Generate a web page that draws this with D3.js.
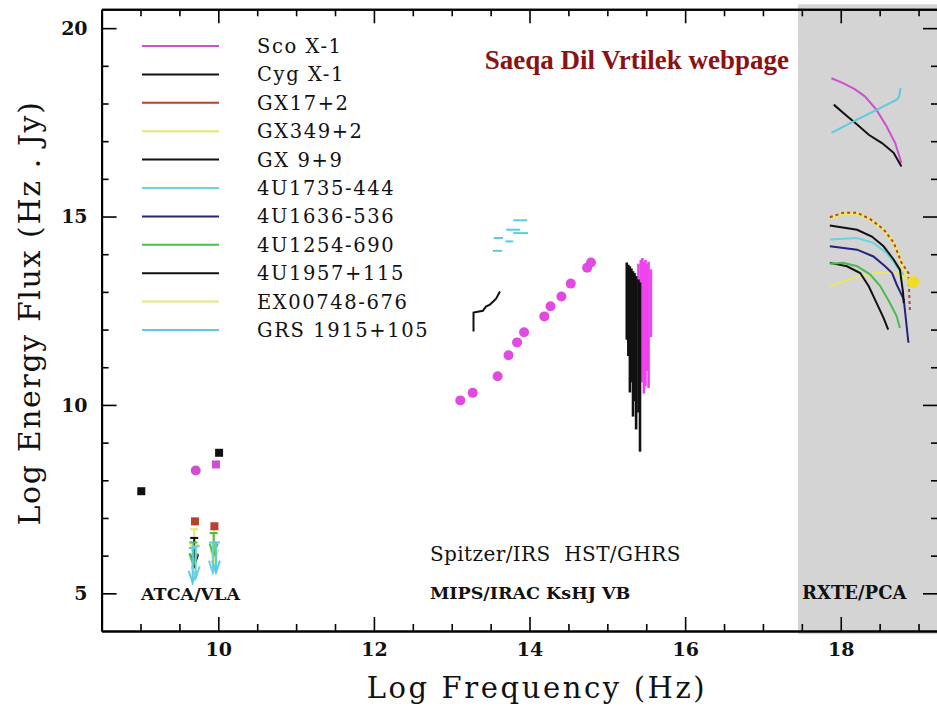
<!DOCTYPE html>
<html>
<head>
<meta charset="utf-8">
<script src="https://cdn.jsdelivr.net/npm/d3@7"></script>
<style>
	html, body { margin: 0; padding: 0; background: #fff; }
	svg { display: block; }
	text { font-family: 'DejaVu Serif', 'Liberation Serif', serif; fill: #111; white-space: pre; }
</style>
</head>
<body>
<svg id="sed" width="937" height="712"></svg>

<script>
	// sources, in legend order
	const sourceNames = [ 'Sco X-1', 'Cyg X-1', 'GX17+2', 'GX349+2', 'GX 9+9', '4U1735-444',
		'4U1636-536', '4U1254-690', '4U1957+115', 'EX00748-676', 'GRS 1915+105' ];
	const sourceColors = [ '#d04fd0', '#111111', '#b8402c', '#e8e66c', '#111111', '#68d4de',
		'#24247e', '#4cba4c', '#111111', '#e8e66c', '#5ccbe2' ];

	// axes
	const xMajorTicks = [ 10, 12, 14, 16, 18 ];
	const xMinorTicks = [ 9, 9.5, 10.5, 11, 11.5, 12.5, 13, 13.5, 14.5, 15, 15.5, 16.5, 17, 17.5, 18.5, 19 ];
	const yMajorTicks = [ 5, 10, 15, 20 ];
	const yMinorTicks = [ 6, 7, 8, 9, 11, 12, 13, 14, 16, 17, 18, 19 ];
	const rxteBand = [ 17.45, 19.25 ];

	// radio (log nu, log nu*F)
	const radioSquares = [ [ 'Cyg X-1', 9.01, 7.71 ], [ 'Sco X-1', 9.97, 8.42 ], [ 'GX 9+9', 10.01, 8.73 ],
		[ 'GX17+2', 9.70, 6.91 ], [ 'GX17+2', 9.95, 6.78 ] ];
	const radioCircles = [ [ 'Sco X-1', 9.71, 8.26 ] ];
	// upper limits: source, log nu, limit, arrow drop
	const radioLimits = [
		[ 'GX349+2', 9.69, 6.70, 0.70 ], [ 'Cyg X-1', 9.69, 6.47, 0.75 ], [ '4U1254-690', 9.68, 6.35, 0.60 ],
		[ 'GRS 1915+105', 9.67, 6.20, 0.92 ], [ '4U1735-444', 9.71, 6.25, 0.85 ],
		[ 'GX349+2', 9.95, 6.70, 0.85 ], [ '4U1254-690', 9.94, 6.60, 0.60 ],
		[ '4U1735-444', 9.93, 6.35, 0.80 ], [ 'GRS 1915+105', 9.97, 6.35, 0.80 ] ];

	// infrared / optical
	const scoIrFreq = [ 13.11, 13.27, 13.59, 13.73, 13.84, 13.93, 14.19, 14.27, 14.41, 14.53, 14.74, 14.79 ];
	const scoIrFlux = [ 10.12, 10.32, 10.76, 11.32, 11.66, 11.93, 12.35, 12.62, 12.88, 13.22, 13.64, 13.78 ];
	const cygIr = [ [ 13.28, 11.95 ], [ 13.28, 12.45 ], [ 13.40, 12.50 ], [ 13.44, 12.61 ], [ 13.49, 12.66 ],
		[ 13.53, 12.74 ], [ 13.57, 12.82 ], [ 13.62, 13.01 ] ];
	// GRS 1915+105 near-IR: from, to, flux
	const grsIr = [ [ 13.79, 13.97, 14.90 ], [ 13.70, 13.88, 14.65 ], [ 13.79, 13.98, 14.56 ],
		[ 13.54, 13.66, 14.43 ], [ 13.69, 13.79, 14.34 ], [ 13.53, 13.65, 14.09 ] ];

	// ultraviolet spectra: log nu, top, bottom
	const scoUv = [ [ 15.40, 13.75, 12.20 ], [ 15.43, 13.85, 11.00 ], [ 15.45, 13.90, 10.60 ], [ 15.47, 13.80, 10.30 ],
		[ 15.49, 13.85, 10.50 ], [ 15.51, 13.75, 10.90 ], [ 15.53, 13.80, 10.45 ], [ 15.56, 13.60, 11.80 ] ];
	const cygUv = [ [ 15.25, 13.78, 11.73 ], [ 15.27, 13.72, 11.30 ], [ 15.29, 13.68, 10.33 ], [ 15.31, 13.62, 10.60 ],
		[ 15.33, 13.55, 9.69 ], [ 15.35, 13.50, 10.10 ], [ 15.37, 13.42, 9.35 ], [ 15.40, 13.33, 9.80 ],
		[ 15.42, 13.25, 8.76 ] ];

	// X-ray (RXTE/PCA)
	const scoXray = [ [ 17.88, 18.67 ], [ 18.03, 18.54 ], [ 18.18, 18.38 ], [ 18.31, 18.19 ], [ 18.46, 17.83 ],
		[ 18.59, 17.39 ], [ 18.70, 16.95 ], [ 18.78, 16.42 ] ];
	const cygXray = [ [ 17.91, 17.97 ], [ 18.06, 17.70 ], [ 18.21, 17.44 ], [ 18.36, 17.17 ], [ 18.53, 16.95 ],
		[ 18.68, 16.69 ], [ 18.78, 16.33 ] ];
	const grsXray = [ [ 17.88, 17.22 ], [ 18.21, 17.57 ], [ 18.46, 17.83 ], [ 18.72, 18.10 ], [ 18.75, 18.19 ], [ 18.77, 18.41 ] ];
	const gx349Xray = [ [ 17.86, 14.96 ], [ 18.03, 15.09 ], [ 18.21, 15.09 ], [ 18.38, 14.92 ], [ 18.55, 14.65 ],
		[ 18.68, 14.30 ], [ 18.78, 13.77 ], [ 18.85, 13.41 ] ];
	const gx17Xray = [ [ 17.86, 14.98 ], [ 18.03, 15.10 ], [ 18.21, 15.10 ], [ 18.38, 14.93 ], [ 18.55, 14.66 ],
		[ 18.68, 14.31 ], [ 18.78, 13.78 ], [ 18.87, 13.50 ], [ 18.89, 12.45 ] ];
	const gx9Xray = [ [ 17.86, 14.76 ], [ 18.21, 14.65 ], [ 18.40, 14.47 ], [ 18.55, 14.21 ], [ 18.68, 13.86 ],
		[ 18.76, 13.59 ], [ 18.80, 13.00 ], [ 18.81, 12.70 ] ];
	const u1735Xray = [ [ 17.86, 14.39 ], [ 18.21, 14.43 ], [ 18.42, 14.30 ], [ 18.59, 14.03 ], [ 18.72, 13.68 ], [ 18.81, 13.46 ] ];
	const u1636Xray = [ [ 17.86, 14.21 ], [ 18.21, 14.12 ], [ 18.42, 13.94 ], [ 18.57, 13.68 ], [ 18.66, 13.50 ],
		[ 18.72, 13.19 ], [ 18.81, 12.80 ], [ 18.87, 11.65 ] ];
	const u1254Xray = [ [ 17.86, 13.75 ], [ 18.03, 13.77 ], [ 18.21, 13.68 ], [ 18.38, 13.46 ], [ 18.51, 13.15 ],
		[ 18.63, 12.71 ], [ 18.72, 12.35 ], [ 18.76, 12.04 ] ];
	const u1957Xray = [ [ 17.86, 13.77 ], [ 18.08, 13.68 ], [ 18.25, 13.50 ], [ 18.36, 13.15 ], [ 18.46, 12.71 ],
		[ 18.55, 12.31 ], [ 18.61, 12.00 ] ];
	const ex0748Xray = [ [ 17.86, 13.15 ], [ 18.21, 13.41 ], [ 18.46, 13.50 ], [ 18.72, 13.50 ], [ 18.93, 13.24 ] ];
	const xrayBlobs = [ [ 'GX349+2', 18.93, 13.26 ] ];

	function colorOf( name ) {
		return sourceColors[ sourceNames.indexOf( name ) ];
	}

	let svg = d3.select( '#sed' ),
		x = d3.scaleLinear().domain( [ 8.5, 19.25 ] ).range( [ 101.6, 938 ] ),
		y = d3.scaleLinear().domain( [ 4, 20.5 ] ).range( [ 631, 9.3 ] );

	// grey RXTE panel
	svg.append( 'rect' )
		.attr( 'x', x( rxteBand[ 0 ] ) )
		.attr( 'y', y( 20.5 ) - 5 )
		.attr( 'width', x( rxteBand[ 1 ] ) - x( rxteBand[ 0 ] ) + 2 )
		.attr( 'height', y( 4 ) - y( 20.5 ) + 8 )
		.style( 'fill', '#d4d4d4' );

	let plot = svg.append( 'g' ).attr( 'id', 'plotGroup' );

	// radio upper limits
	radioLimits.forEach( d => {
		let cx = x( d[ 1 ] ), y0 = y( d[ 2 ] ), y1 = y( d[ 2 ] - d[ 3 ] ),
			g = plot.append( 'g' ).style( 'stroke', colorOf( d[ 0 ] ) ).style( 'stroke-width', 2 ).style( 'fill', 'none' );
		g.append( 'line' ).attr( 'x1', cx - 4 ).attr( 'x2', cx + 4 ).attr( 'y1', y0 ).attr( 'y2', y0 );
		g.append( 'line' ).attr( 'x1', cx ).attr( 'x2', cx ).attr( 'y1', y0 ).attr( 'y2', y1 );
		g.append( 'path' ).attr( 'd', 'M' + ( cx - 4 ) + ',' + ( y1 - 12 ) + 'L' + cx + ',' + y1 + 'L' + ( cx + 4 ) + ',' + ( y1 - 12 ) );
	} );

	// radio detections
	plot.selectAll( 'rect.radio' ).data( radioSquares )
		.enter().append( 'rect' )
		.attr( 'class', 'radio' )
		.attr( 'x', d => x( d[ 1 ] ) - 4 )
		.attr( 'y', d => y( d[ 2 ] ) - 4 )
		.attr( 'width', 8 )
		.attr( 'height', 8 )
		.style( 'fill', d => colorOf( d[ 0 ] ) );

	plot.selectAll( 'circle.radio' ).data( radioCircles )
		.enter().append( 'circle' )
		.attr( 'class', 'radio' )
		.attr( 'cx', d => x( d[ 1 ] ) )
		.attr( 'cy', d => y( d[ 2 ] ) )
		.attr( 'r', 5 )
		.style( 'fill', d => colorOf( d[ 0 ] ) );

	// Sco X-1 IR/optical points
	plot.selectAll( 'circle.ir' ).data( scoIrFreq )
		.enter().append( 'circle' )
		.attr( 'class', 'ir' )
		.attr( 'cx', d => x( d ) )
		.attr( 'cy', ( d, i ) => y( scoIrFlux[ i ] ) )
		.attr( 'r', 5 )
		.style( 'fill', '#e04ae0' );

	let line = d3.line().x( d => x( d[ 0 ] ) ).y( d => y( d[ 1 ] ) );

	plot.append( 'path' ).datum( cygIr )
		.attr( 'd', line )
		.style( 'fill', 'none' ).style( 'stroke', '#111' ).style( 'stroke-width', 2 );

	plot.selectAll( 'line.grs' ).data( grsIr )
		.enter().append( 'line' )
		.attr( 'class', 'grs' )
		.attr( 'x1', d => x( d[ 0 ] ) )
		.attr( 'x2', d => x( d[ 1 ] ) )
		.attr( 'y1', d => y( d[ 2 ] ) )
		.attr( 'y2', d => y( d[ 2 ] ) )
		.style( 'stroke', colorOf( 'GRS 1915+105' ) ).style( 'stroke-width', 2 );

	// UV spectra as vertical traces
	[ [ scoUv, '#ee44ee' ], [ cygUv, '#111' ] ].forEach( s => {
		plot.append( 'g' ).selectAll( 'line' ).data( s[ 0 ] )
			.enter().append( 'line' )
			.attr( 'x1', d => x( d[ 0 ] ) )
			.attr( 'x2', d => x( d[ 0 ] ) )
			.attr( 'y1', d => y( d[ 1 ] ) )
			.attr( 'y2', d => y( d[ 2 ] ) )
			.style( 'stroke', s[ 1 ] ).style( 'stroke-width', 2.6 );
	} );

	// X-ray curves
	let xrayCurves = [
		[ 'Sco X-1', scoXray ], [ 'Cyg X-1', cygXray ], [ 'GRS 1915+105', grsXray ],
		[ 'EX00748-676', ex0748Xray ], [ '4U1957+115', u1957Xray ], [ '4U1254-690', u1254Xray ],
		[ '4U1636-536', u1636Xray ], [ '4U1735-444', u1735Xray ], [ 'GX 9+9', gx9Xray ],
		[ 'GX349+2', gx349Xray ], [ 'GX17+2', gx17Xray ] ];

	plot.selectAll( 'path.xray' ).data( xrayCurves )
		.enter().append( 'path' )
		.attr( 'class', 'xray' )
		.attr( 'd', d => line( d[ 1 ] ) )
		.style( 'fill', 'none' )
		.style( 'stroke', d => colorOf( d[ 0 ] ) )
		.style( 'stroke-width', d => d[ 0 ] == 'GX349+2' ? 3.5 : 2 )
		.style( 'stroke-dasharray', d => d[ 0 ] == 'GX17+2' ? '3,3' : null );

	plot.selectAll( 'circle.blob' ).data( xrayBlobs )
		.enter().append( 'circle' )
		.attr( 'class', 'blob' )
		.attr( 'cx', d => x( d[ 1 ] ) )
		.attr( 'cy', d => y( d[ 2 ] ) )
		.attr( 'r', 6 )
		.style( 'fill', '#f0dc20' );

	// axes, ticks inward on all four sides
	function styleAxis( g, showLabels ) {
		g.attr( 'font-family', 'DejaVu Serif, serif' )
			.attr( 'font-size', 19 )
			.attr( 'font-weight', 'bold' );
		g.select( '.domain' ).style( 'stroke', '#000' ).style( 'stroke-width', 2 );
		g.selectAll( '.tick line' ).style( 'stroke', '#000' ).style( 'stroke-width', 1.6 );
		g.selectAll( '.tick text' ).style( 'fill', '#111' );
		if ( !showLabels ) g.selectAll( '.tick text' ).remove();
	}

	let frameBottom = y( 4 ), frameTop = y( 20.5 ), frameLeft = x( 8.5 ), frameRight = x( 19.25 );

	svg.append( 'g' ).attr( 'transform', 'translate(0,' + frameBottom + ')' )
		.call( d3.axisBottom( x ).tickValues( xMinorTicks ).tickSize( -7 ).tickSizeOuter( 0 ) )
		.call( g => styleAxis( g, false ) );
	svg.append( 'g' ).attr( 'transform', 'translate(0,' + frameBottom + ')' )
		.call( d3.axisBottom( x ).tickValues( xMajorTicks ).tickSize( -14 ).tickSizeOuter( 0 ).tickPadding( 12 ).tickFormat( d3.format( 'd' ) ) )
		.call( g => styleAxis( g, true ) );
	svg.append( 'g' ).attr( 'transform', 'translate(0,' + frameTop + ')' )
		.call( d3.axisTop( x ).tickValues( xMinorTicks ).tickSize( -7 ).tickSizeOuter( 0 ) )
		.call( g => styleAxis( g, false ) );
	svg.append( 'g' ).attr( 'transform', 'translate(0,' + frameTop + ')' )
		.call( d3.axisTop( x ).tickValues( xMajorTicks ).tickSize( -14 ).tickSizeOuter( 0 ) )
		.call( g => styleAxis( g, false ) );

	svg.append( 'g' ).attr( 'transform', 'translate(' + frameLeft + ',0)' )
		.call( d3.axisLeft( y ).tickValues( yMinorTicks ).tickSize( -7 ).tickSizeOuter( 0 ) )
		.call( g => styleAxis( g, false ) );
	svg.append( 'g' ).attr( 'transform', 'translate(' + frameLeft + ',0)' )
		.call( d3.axisLeft( y ).tickValues( yMajorTicks ).tickSize( -15 ).tickSizeOuter( 0 ).tickPadding( 14 ).tickFormat( d3.format( 'd' ) ) )
		.call( g => styleAxis( g, true ) );
	svg.append( 'g' ).attr( 'transform', 'translate(' + frameRight + ',0)' )
		.call( d3.axisRight( y ).tickValues( yMinorTicks ).tickSize( -7 ).tickSizeOuter( 0 ) )
		.call( g => styleAxis( g, false ) );
	svg.append( 'g' ).attr( 'transform', 'translate(' + frameRight + ',0)' )
		.call( d3.axisRight( y ).tickValues( yMajorTicks ).tickSize( -15 ).tickSizeOuter( 0 ) )
		.call( g => styleAxis( g, false ) );

	// axis titles
	svg.append( 'text' )
		.attr( 'x', 537 ).attr( 'y', 698 )
		.attr( 'text-anchor', 'middle' )
		.style( 'font-size', '29px' )
		.style( 'letter-spacing', '2.6px' )
		.text( 'Log Frequency (Hz)' );
	svg.append( 'text' )
		.attr( 'transform', 'translate(40,313) rotate(-90)' )
		.attr( 'text-anchor', 'middle' )
		.style( 'font-size', '30px' )
		.style( 'letter-spacing', '1.6px' )
		.text( 'Log Energy Flux (Hz . Jy)' );

	// legend
	let legend = svg.append( 'g' ).attr( 'id', 'legend' );
	sourceNames.forEach( ( name, i ) => {
		let ly = 46 + i * 28.4;
		legend.append( 'line' )
			.attr( 'x1', 142 ).attr( 'x2', 219 ).attr( 'y1', ly ).attr( 'y2', ly )
			.style( 'stroke', sourceColors[ i ] ).style( 'stroke-width', 2 );
		legend.append( 'text' )
			.attr( 'x', 257 ).attr( 'y', ly ).attr( 'dy', '0.36em' )
			.style( 'font-size', '19.5px' )
			.style( 'letter-spacing', '1.6px' )
			.text( name );
	} );

	// instrument labels
	let labels = [ [ 'ATCA/VLA', 141, 594, 'bold', 17.5 ], [ 'Spitzer/IRS  HST/GHRS', 430, 554, 'normal', 20 ],
		[ 'MIPS/IRAC KsHJ VB', 430, 593, 'bold', 17.5 ], [ 'RXTE/PCA', 802, 593, 'bold', 18 ] ];
	labels.forEach( l => {
		svg.append( 'text' )
			.attr( 'x', l[ 1 ] ).attr( 'y', l[ 2 ] ).attr( 'dy', '0.36em' )
			.attr( 'xml:space', 'preserve' )
			.style( 'font-size', l[ 4 ] + 'px' )
			.style( 'font-weight', l[ 3 ] )
			.style( 'letter-spacing', l[ 3 ] == 'normal' ? '0.4px' : '0px' )
			.text( l[ 0 ] );
	} );

	svg.append( 'text' )
		.attr( 'x', 789 ).attr( 'y', 69 )
		.attr( 'text-anchor', 'end' )
		.style( 'font-family', 'Liberation Serif, Times New Roman, serif' )
		.style( 'font-weight', 'bold' )
		.style( 'font-size', '27px' )
		.style( 'fill', '#8b1212' )
		.text( 'Saeqa Dil Vrtilek webpage' );
</script>
</body>
</html>
